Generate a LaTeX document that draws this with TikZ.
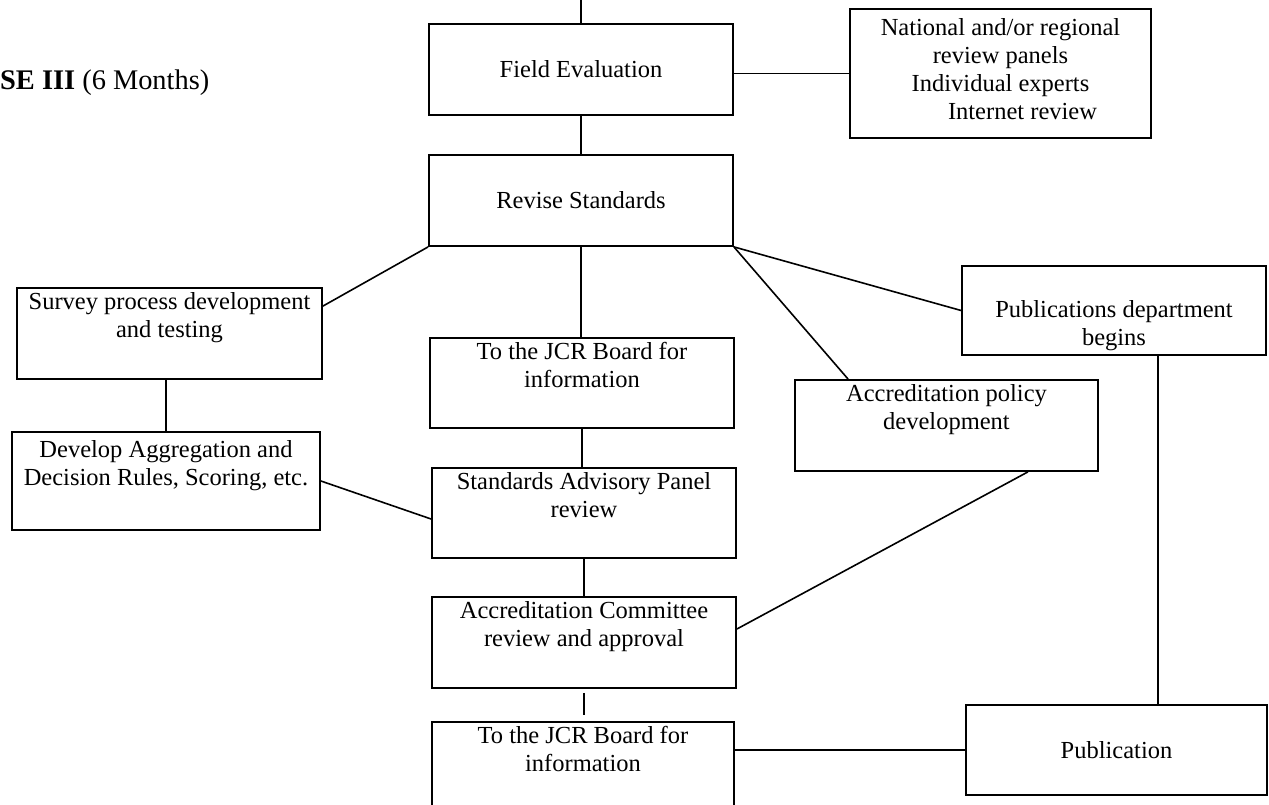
\documentclass[tikz,border=0pt]{standalone}
\usepackage{fontspec}
\setmainfont{Liberation Serif}
\tikzset{
    stage/.style={draw, line width=1.8pt, inner sep=0pt, align=center,
        minimum width=304pt, minimum height=91pt, font=\fontsize{24.5}{28}\selectfont},
    link/.style={line width=1.6pt}
}
\begin{document}
\begin{tikzpicture}[x=1pt, y=-1pt]
    \useasboundingbox (0,0) rectangle (1269,805);
    \clip (0,0) rectangle (1269,805);
    % Heading
    \node[anchor=base west, inner sep=0pt, font=\fontsize{28.4}{32}\selectfont] (phase) at (0,90) {\textbf{SE III} (6 Months)};
    % Centre column
    \node[stage] (field) at (581,69.5) {Field Evaluation};
    \node[stage] (revise) at (581,200.5) {Revise Standards};
    \node[stage, minimum height=90pt] (jcrA) at (582,383) {To the JCR Board for\\information\\\strut};
    \node[stage, minimum height=90pt] (sap) at (584,513) {Standards Advisory Panel\\review\\\strut};
    \node[stage] (acr) at (584,642.5) {Accreditation Committee\\review and approval\\\strut};
    \node[stage, minimum width=302pt, minimum height=90pt] (jcrB) at (583,767) {To the JCR Board for\\information\\\strut};
    % Left column
    \node[stage, minimum width=305pt] (survey) at (169.5,333.5) {Survey process development\\and testing\\\strut};
    \node[stage, minimum width=308pt, minimum height=98pt] (develop) at (166,481) {Develop Aggregation and\\Decision Rules, Scoring, etc.\\\strut};
    % Right side
    \node[stage, minimum width=301pt, minimum height=129pt] (national) at (1000.5,73.5) {National and/or regional\\review panels\\Individual experts\\\hspace*{44pt}Internet review\\[-20pt]};
    \node[stage, minimum width=303pt] (policy) at (946.5,425.5) {Accreditation policy\\development\\\strut};
    \node[stage, minimum height=89pt] (pubdept) at (1114,310.5) {\strut\\Publications department\\begins};
    \node[stage, minimum width=301pt, minimum height=90pt] (publication) at (1116.5,750) {Publication};
    % Connectors
    \coordinate (top) at (581,-5);
    \coordinate (pubdrop) at ([xshift=44pt]pubdept.south);
    \draw[link] (field.north) -- (top);
    \draw[link] (field) -- (revise);
    \draw[link] (national.west -| field.east) -- (national.west);
    \draw[link] (revise.south) -- (revise.south |- jcrA.north);
    \draw[link] (jcrA.south) -- (jcrA.south |- sap.north);
    \draw[link] (sap.south) -- (sap.south |- acr.north);
    \draw[link, shorten <=4pt, shorten >=6pt] (acr.south) -- (acr.south |- jcrB.north);
    \draw[link] ([yshift=-19pt]survey.north east) -- (revise.south west);
    \draw[link] (develop.north |- survey.south) -- (develop.north);
    \draw[link] (develop.east) -- ([yshift=-6pt]sap.west);
    \draw[link] (revise.south east) -- (pubdept.west);
    \draw[link] (revise.south east) -- ([xshift=54pt]policy.north west);
    \draw[link] ([xshift=-71pt]policy.south east) -- ([yshift=13.5pt]acr.east);
    \draw[link] (pubdrop) -- (pubdrop |- publication.north);
    \draw[link] (publication.west -| jcrB.east) -- (publication.west);
\end{tikzpicture}
\end{document}
